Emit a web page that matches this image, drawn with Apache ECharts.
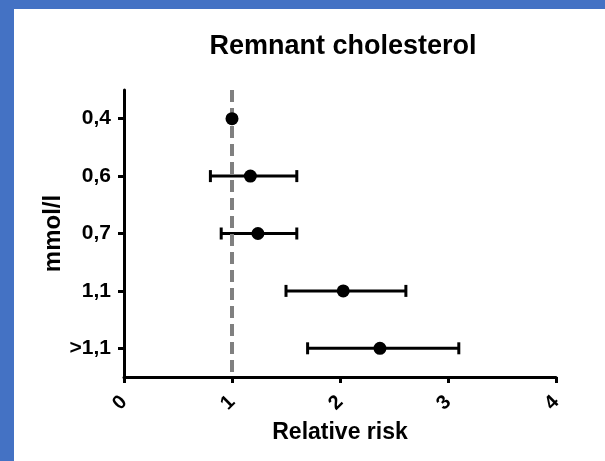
<!DOCTYPE html>
<html>
<head>
<meta charset="utf-8">
<script src="https://cdn.jsdelivr.net/npm/echarts@6/dist/echarts.min.js"></script>
<style>
html,body{margin:0;padding:0;background:#fff;}
#chart{width:605px;height:461px;}
</style>
</head>
<body>
<div id="chart"></div>
<script>
var categories = ['0,4', '0,6', '0,7', '1,1', '>1,1'];
var estimates = [1.0, 1.17, 1.24, 2.03, 2.37];
var lowerCI = [null, 0.80, 0.90, 1.50, 1.70];
var upperCI = [null, 1.60, 1.60, 2.61, 3.10];
var xTicks = [0, 1, 2, 3, 4];
var referenceValue = 1;

var chart = echarts.init(document.getElementById('chart'), null, {renderer: 'canvas'});
var font = 'Liberation Sans, Arial, sans-serif';

var errData = categories.map(function (c, i) {
  return [lowerCI[i], upperCI[i], i];
}).filter(function (d) { return d[0] != null; });

chart.setOption({
  animation: false,
  backgroundColor: '#ffffff',
  graphic: [
    {type: 'rect', left: 0, top: 0, shape: {width: 605, height: 9}, style: {fill: '#4472C4'}, z: 100},
    {type: 'rect', left: 0, top: 0, shape: {width: 14, height: 461}, style: {fill: '#4472C4'}, z: 100}
  ],
  title: {
    text: 'Remnant cholesterol',
    left: 338, textAlign: 'center', top: 28,
    textStyle: {fontFamily: font, fontWeight: 'bold', fontSize: 27, color: '#000'}
  },
  grid: {left: 124, right: 49, top: 90, bottom: 84},
  xAxis: {
    type: 'value', min: 0, max: 4, interval: 1,
    name: 'Relative risk', nameLocation: 'middle', nameGap: 42,
    nameTextStyle: {fontFamily: font, fontWeight: 'bold', fontSize: 23, color: '#000'},
    axisLine: {show: true, lineStyle: {color: '#000', width: 3}},
    axisTick: {show: true, length: 6, lineStyle: {color: '#000', width: 3}},
    axisLabel: {
      rotate: 45, margin: 22, color: '#000', align: 'right', verticalAlign: 'middle',
      fontFamily: font, fontWeight: 'bold', fontSize: 20,
      formatter: function (v) { return xTicks.indexOf(v) >= 0 ? String(v) : ''; }
    },
    splitLine: {show: false}
  },
  yAxis: {
    type: 'category', data: categories, inverse: true,
    name: 'mmol/l', nameLocation: 'middle', nameGap: 59, nameMoveOverlap: false,
    nameTextStyle: {fontFamily: font, fontWeight: 'bold', fontSize: 24, color: '#000'},
    axisLine: {show: true, lineStyle: {color: '#000', width: 3}},
    axisTick: {show: true, alignWithLabel: true, length: 6, lineStyle: {color: '#000', width: 3}},
    axisLabel: {margin: 13, color: '#000', fontFamily: font, fontWeight: 'bold', fontSize: 21},
    splitLine: {show: false}
  },
  series: [
    {
      type: 'scatter',
      name: 'reference',
      data: [],
      z: 2,
      markLine: {
        silent: true, symbol: 'none', animation: false,
        label: {show: false},
        lineStyle: {color: '#808080', width: 4, type: [12, 6], opacity: 1},
        data: [{xAxis: referenceValue}]
      }
    },
    {
      type: 'custom',
      name: 'CI',
      data: errData,
      encode: {x: [0, 1], y: 2},
      z: 3,
      renderItem: function (params, api) {
        var lo = api.coord([api.value(0), api.value(2)]);
        var hi = api.coord([api.value(1), api.value(2)]);
        var h = 6;
        var st = {stroke: '#000', lineWidth: 3};
        return {
          type: 'group',
          children: [
            {type: 'line', shape: {x1: lo[0], y1: lo[1], x2: hi[0], y2: hi[1]}, style: st},
            {type: 'line', shape: {x1: lo[0], y1: lo[1] - h, x2: lo[0], y2: lo[1] + h}, style: st},
            {type: 'line', shape: {x1: hi[0], y1: hi[1] - h, x2: hi[0], y2: hi[1] + h}, style: st}
          ]
        };
      }
    },
    {
      type: 'scatter',
      name: 'RR',
      data: estimates.map(function (v, i) { return [v, i]; }),
      symbol: 'circle', symbolSize: 13,
      itemStyle: {color: '#000', opacity: 1},
      z: 5
    }
  ]
});
</script>
</body>
</html>
